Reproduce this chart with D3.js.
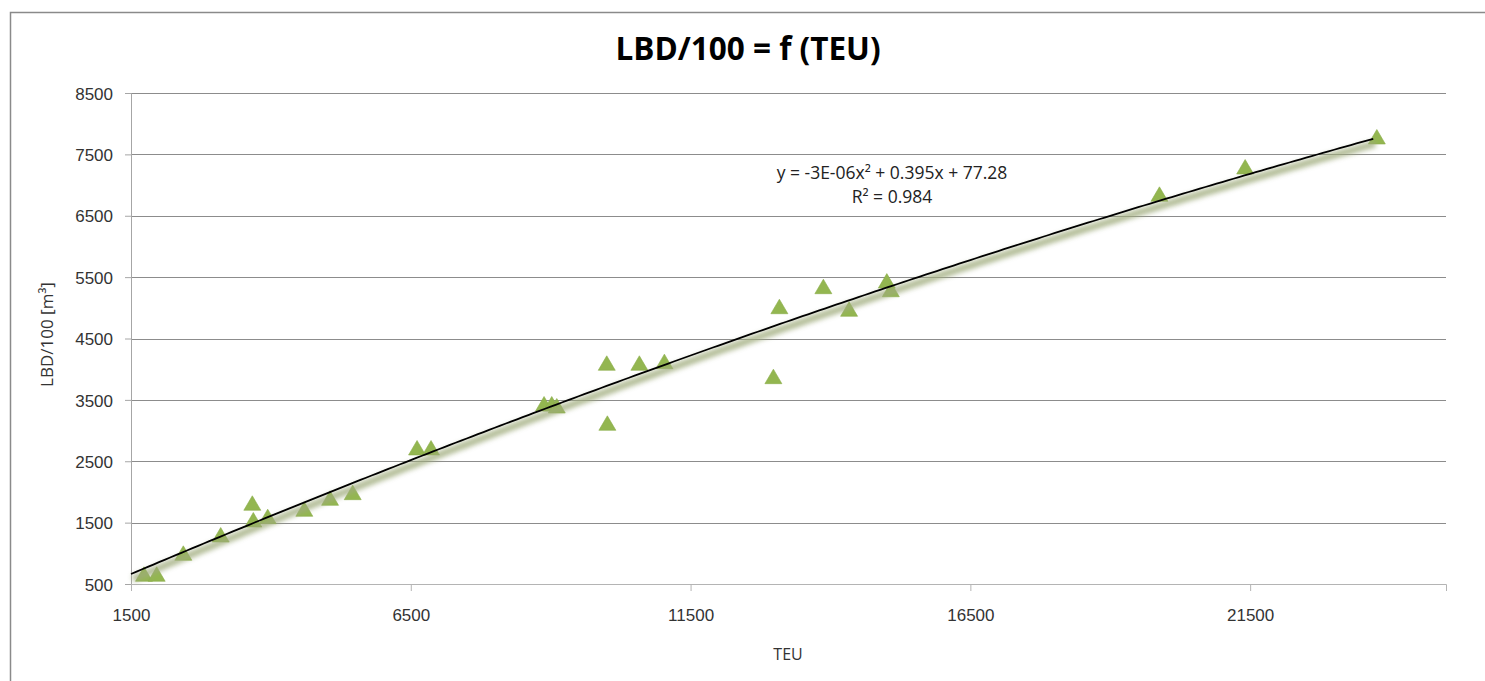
<!DOCTYPE html>
<html>
<head>
<meta charset="utf-8">
<script src="https://cdn.jsdelivr.net/npm/d3@7"></script>
<style>
  html, body { margin: 0; padding: 0; background: #fff; }
  svg { display: block; font-family: 'Open Sans', 'DejaVu Sans', sans-serif; }
  .tick text { fill: #333; font-size: 17px; }
</style>
</head>
<body>
<svg id="chart" width="1485" height="681"></svg>
<script>
// capacity of the ships, TEU
const teu = [
  1732, 1959, 2435, 3103, 3668, 3686, 3943, 4597, 5057, 5462,
  6612, 6862, 8882, 9019, 9109, 10002, 10013, 10585, 11032, 12980,
  13087, 13873, 14333, 15007, 15078, 19879, 21411, 23764
]
// LBD/100 [m3]
const lbd = [
  658, 658, 1000, 1298, 1815, 1543, 1597, 1717, 1896, 1988,
  2716, 2716, 3433, 3433, 3400, 4096, 3118, 4096, 4123, 3878,
  5018, 5344, 4976, 5435, 5295, 6849, 7294, 7783
]
const xTicks = [1500, 6500, 11500, 16500, 21500]
const yTicks = [500, 1500, 2500, 3500, 4500, 5500, 6500, 7500, 8500]
// polynomial trendline as printed on the chart
const trendCoef = [-3e-6, 0.395, 77.28]
const trendText = ['y = -3E-06x² + 0.395x + 77.28', 'R² = 0.984']

const margins = {left: 131, top: 93, right: 39, bottom: 97}
const svg = d3.select('#chart')
const W = +svg.attr('width'), H = +svg.attr('height')
const w = W - margins.left - margins.right
const h = H - margins.top - margins.bottom

// outer frame, only top and left edges are visible
svg.append('rect')
  .attr('x', 10.5).attr('y', 12.5)
  .attr('width', W + 20).attr('height', H + 20)
  .attr('fill', 'none').attr('stroke', '#8a8a8a').attr('stroke-width', 1.5)

const defs = svg.append('defs')
defs.append('filter').attr('id', 'soft')
  .attr('x', '-5%').attr('y', '-20%').attr('width', '110%').attr('height', '140%')
  .append('feGaussianBlur').attr('stdDeviation', 2.4)

const g = svg.append('g').attr('transform', `translate(${margins.left}, ${margins.top})`)

const x = d3.scaleLinear().domain([1500, 25000]).range([0, w])
const y = d3.scaleLinear().domain([500, 8500]).range([h, 0])

// grid
g.append('g')
  .selectAll('line')
  .data(yTicks.slice(1))
  .enter()
  .append('line')
  .attr('x1', 0).attr('x2', w)
  .attr('y1', (d) => Math.round(y(d)) + 0.5).attr('y2', (d) => Math.round(y(d)) + 0.5)
  .attr('stroke', '#8c8c8c')

const leftAxis = d3.axisLeft(y).tickValues(yTicks).tickSize(6).tickPadding(12).tickFormat(d3.format('d'))
const yAxis = g.append('g').attr('class', 'axis axis--y').call(leftAxis)
yAxis.select('.domain').attr('stroke', '#a6a6a6')
yAxis.selectAll('.tick line').attr('stroke', '#a6a6a6')
yAxis.selectAll('.tick text').attr('dy', '0.36em')

const bottomAxis = d3.axisBottom(x).tickValues(xTicks).tickSize(7).tickPadding(18).tickFormat(d3.format('d'))
const xAxis = g.append('g')
  .attr('class', 'axis axis--x')
  .attr('transform', `translate(0, ${h})`)
  .call(bottomAxis)
xAxis.select('.domain').attr('stroke', '#b4b4b4')
xAxis.selectAll('.tick line').attr('stroke', '#b4b4b4')

// axis labels
svg.append('text')
  .attr('transform', `translate(53, ${margins.top + h / 2 - 4}) rotate(-90)`)
  .attr('text-anchor', 'middle')
  .attr('font-size', 17).attr('fill', '#333')
  .text('LBD/100 [m³]')

svg.append('text')
  .attr('x', 788).attr('y', 660)
  .attr('text-anchor', 'middle')
  .attr('font-size', 16).attr('fill', '#333')
  .text('TEU')

// title
svg.append('text')
  .attr('x', 748).attr('y', 60)
  .attr('text-anchor', 'middle')
  .attr('font-size', 31.5).attr('font-weight', 'bold').attr('fill', '#000')
  .text('LBD/100 = f (TEU)')

// markers
const tri = 'M0,-7.5 L8.5,7 L-8.5,7 Z'
g.append('g')
  .selectAll('.pt')
  .data(d3.zip(teu, lbd))
  .enter()
  .append('path')
  .attr('class', 'pt')
  .attr('d', tri)
  .attr('transform', (d) => `translate(${x(d[0])}, ${y(d[1])})`)
  .attr('fill', '#93b650')
  .attr('stroke', '#8aad48').attr('stroke-width', 0.6)

// trendline, with Excel style soft shadow
const poly = (v) => trendCoef[0] * v * v + trendCoef[1] * v + trendCoef[2]
const trendX = d3.range(1500, d3.max(teu) + 1, 100)
const line = d3.line().x((v) => x(v)).y((v) => y(poly(v)))

g.append('path')
  .datum(trendX)
  .attr('d', line)
  .attr('transform', 'translate(2, 5)')
  .attr('fill', 'none')
  .attr('stroke', '#9fab7c').attr('stroke-width', 7).attr('opacity', 0.8)
  .attr('filter', 'url(#soft)')

g.append('path')
  .datum(trendX)
  .attr('d', line)
  .attr('fill', 'none')
  .attr('stroke', '#000').attr('stroke-width', 1.8)

// equation label
const eq = svg.append('text')
  .attr('text-anchor', 'middle')
  .attr('font-size', 17.5).attr('fill', '#222')
eq.selectAll('tspan')
  .data(trendText)
  .enter()
  .append('tspan')
  .attr('x', 892)
  .attr('y', (d, i) => 179 + i * 24)
  .text((d) => d)
</script>
</body>
</html>
